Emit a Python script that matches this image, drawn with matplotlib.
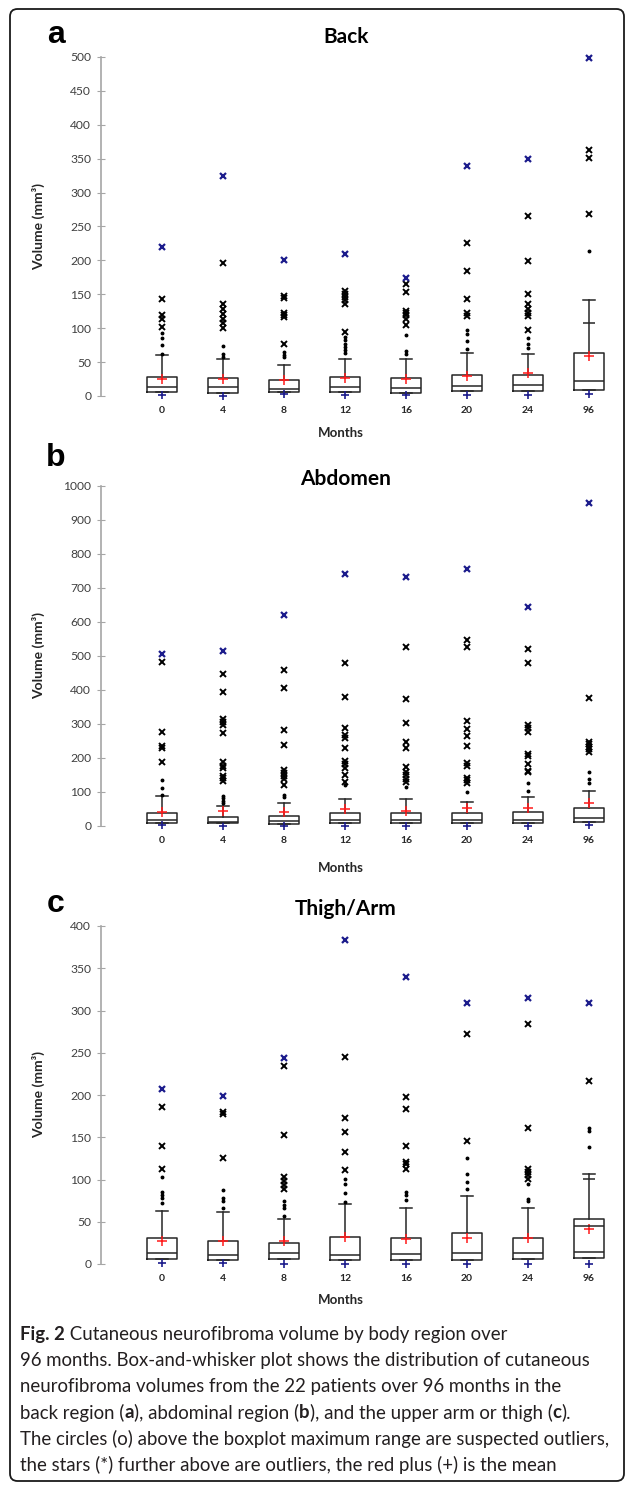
import matplotlib.pyplot as plt
import numpy as np
from matplotlib.patches import FancyBboxPatch

plt.rcParams['font.family'] = ['Lato', 'DejaVu Sans']

W, H = 627, 1485
nan = np.nan

months = ['0', '4', '8', '12', '16', '20', '24', '96']

# ---- a: Back ----
back_q1 = [6.5, 5, 5.4, 6, 5, 7.4, 7.4, 9.3]
back_med = [13.5, 13.7, 10.3, 13, 12.3, 14.7, 15.7, 22]
back_q3 = [28, 26, 23.5, 27.5, 26.5, 30.5, 30.5, 63]
back_whi = [60, 55, 45, 55, 55, 64, 62.4, 141]
back_mean = [25.5, 24.5, 23, 26.5, 25.5, 29.5, 34, 59]
back_min = [2, 0.5, 2.5, 2, 1, 2, 2, 2.5]
back_max = [220, 325, 200, 210, 174, 339, 350, 499]
back_cap2 = [nan, nan, nan, nan, nan, nan, nan, 108]
back_out = [
    [143.5, 119, 113, 102],
    [196.7, 136, 128, 121, 114, 107, 100],
    [148, 145, 122, 119, 116, 77],
    [155, 151, 146, 141, 135, 94],
    [165, 153, 126, 122, 119, 113, 104],
    [225, 184, 143.5, 122, 117.5],
    [265, 199, 150, 135, 129, 122, 117.5, 98],
    [363, 351.5, 269],
]
back_sus = [
    [93, 86, 75, 62],
    [74, 62, 58],
    [65, 61, 58],
    [87, 82, 77, 72, 68, 63],
    [90, 67, 62],
    [97, 92, 81, 70],
    [86, 76, 71],
    [214],
]

# ---- b: Abdomen ----
abd_q1 = [8, 8, 6, 8, 8, 8, 8, 11]
abd_med = [17.6, 12.7, 15.7, 17.6, 17.6, 17.6, 17.6, 24.5]
abd_q3 = [39, 27.4, 29, 39, 39, 39, 42, 52]
abd_whi = [89, 59, 67, 79, 78, 71.5, 86, 103]
abd_mean = [40, 44, 40, 49, 45, 52, 54, 67.6]
abd_min = [3, 0, 0, 0, 0, 0, 0, 3]
abd_max = [505, 515, 622, 742, 731, 757, 644, 950]
abd_cap2 = [nan] * 8
abd_out = [
    [481, 275, 236, 228, 187],
    [446, 395, 314, 306.5, 297, 274, 189, 177, 172, 147, 140, 132],
    [458, 407, 282, 238, 166, 157, 147, 137, 122],
    [478, 379, 289, 267, 260, 230, 191, 181, 172, 150, 130],
    [527, 373, 302, 248, 230, 174, 160, 150, 138, 130],
    [546.5, 527, 309.5, 284, 265, 235, 184, 176, 142, 135, 127],
    [521, 480, 297, 287, 277, 211.5, 205.7, 182, 162.6, 158],
    [377, 248, 241, 233, 225, 218],
]
abd_sus = [
    [135, 111, 91],
    [88, 81, 74, 67],
    [91, 86],
    [120],
    [116],
    [101],
    [125, 104],
    [160, 138, 127],
]

# ---- c: Thigh/Arm ----
thigh_q1 = [6, 4.7, 6, 4.7, 4.7, 4.7, 6, 7.5]
thigh_med = [12.6, 10.7, 12.6, 10.3, 11.4, 12.6, 12.6, 14.6]
thigh_q3 = [31, 27.6, 24.5, 31.6, 30.4, 36.3, 30.4, 53]
thigh_whi = [62.7, 61, 53, 70.6, 66, 81, 66, 106]
thigh_mean = [27.6, 27, 27.6, 32, 29.6, 31, 30.4, 41.4]
thigh_min = [1, 1, 0, 0, 0, 0, 0, 0]
thigh_max = [206.8, 199, 243.5, 384, 340, 308.6, 314.5, 308.6]
thigh_cap2 = [nan, nan, nan, nan, nan, nan, nan, 100.6]
thigh_line2 = [nan, nan, nan, nan, nan, nan, nan, 45]
thigh_out = [
    [186, 139.7, 113],
    [179.6, 177.6, 126],
    [234, 152.7, 103, 98, 93, 89],
    [244.7, 172.5, 156.7, 133, 111],
    [198, 184, 140, 121, 118, 113],
    [272, 145.6],
    [284, 160.6, 113, 109, 105, 101],
    [217],
]
thigh_sus = [
    [102.6, 85, 81.7, 77.7, 72],
    [87.6, 78.5, 75, 66],
    [74, 70, 66, 57],
    [101, 94.7, 83.7, 73.8],
    [85.6, 81.7, 75.8],
    [126, 106, 96.7, 88.4],
    [94.7, 76.6, 74.6],
    [160.6, 157.5, 138],
]

fig = plt.figure(figsize=(W / 100, H / 100), dpi=100)

dark = '#262626'
navy = '#1c1c8c'
grey = '#a6a6a6'


def fx(x):
    return x / W


def fy(y):
    return 1 - y / H


def panel(y_zero, y_top, q1, med, q3, whi, mean, vmin, vmax, out, sus, cap2,
          ymax, step):
    ax = fig.add_axes([fx(101), fy(y_zero), fx(518.5), (y_zero - y_top) / H])
    pos = np.arange(len(months))
    stats = [dict(q1=a, med=m, q3=b, whislo=a, whishi=w, fliers=[])
             for a, m, b, w in zip(q1, med, q3, whi)]
    lp = dict(color=dark, lw=1.1)
    ax.bxp(stats, positions=pos, widths=0.5, capwidths=0.2, showfliers=False,
           boxprops=lp, medianprops=lp, whiskerprops=lp, capprops=lp)
    ax.hlines(cap2, pos - 0.1, pos + 0.1, color=dark, lw=1.1)
    for i in pos:
        ax.plot([i] * len(out[i]), out[i], 'x', color='black', ms=4, mew=1.4,
                clip_on=False)
        ax.plot([i] * len(sus[i]), sus[i], 'o', color='black', ms=1.8,
                clip_on=False)
    ax.plot(pos, vmax, 'x', color=navy, ms=4.5, mew=1.6, clip_on=False)
    ax.plot(pos, mean, '+', color='#ff1a1a', ms=7, mew=1.1, clip_on=False)
    ax.plot(pos, vmin, '+', color=navy, ms=6, mew=1.2, clip_on=False)

    ax.set_xlim(-1, 7.5)
    ax.set_ylim(0, ymax)
    ax.set_yticks(np.arange(0, ymax + 1, step))
    ax.set_xticks(pos, months, fontweight='bold', fontsize=7.5, color=dark)
    ax.tick_params(axis='x', length=0, pad=7)
    ax.tick_params(axis='y', direction='inout', length=6, color=grey,
                   labelsize=8.7, labelcolor='#404040', pad=4)
    for s in ['top', 'right', 'bottom']:
        ax.spines[s].set_visible(False)
    ax.spines['left'].set_color(grey)
    ax.spines['left'].set_linewidth(1.2)
    ax.set_ylabel('Volume (mm³)', fontweight='bold', fontsize=10, color=dark)
    ax.yaxis.set_label_coords(-0.108, 0.5)
    ax.patch.set_alpha(0)
    return ax


panel(396, 57, back_q1, back_med, back_q3, back_whi, back_mean, back_min,
      back_max, back_out, back_sus, back_cap2, 500, 50)
panel(826, 486, abd_q1, abd_med, abd_q3, abd_whi, abd_mean, abd_min,
      abd_max, abd_out, abd_sus, abd_cap2, 1000, 100)
axc = panel(1264, 926, thigh_q1, thigh_med, thigh_q3, thigh_whi, thigh_mean,
            thigh_min, thigh_max, thigh_out, thigh_sus, thigh_cap2, 400, 50)
axc.hlines(thigh_line2, np.arange(8) - 0.25, np.arange(8) + 0.25, color=dark,
           lw=1.1)

# panel letters, titles, x labels
for letter, ly, title, ty, my in [('a', 35, 'Back', 37, 433),
                                  ('b', 458, 'Abdomen', 479, 868),
                                  ('c', 904, 'Thigh/Arm', 909, 1300)]:
    fig.text(fx(56), fy(ly), letter, family='Liberation Sans',
             fontweight='bold', fontsize=23, ha='center', va='center')
    fig.text(fx(346), fy(ty), title, fontweight='bold', fontsize=15,
             ha='center', va='center')
    fig.text(fx(341), fy(my), 'Months', fontweight='bold', fontsize=9.5,
             ha='center', va='center', color=dark)

# caption
caption = [
    [('Fig. 2', 'bold'), (' Cutaneous neurofibroma volume by body region over', 'normal')],
    [('96 months. Box-and-whisker plot shows the distribution of cutaneous', 'normal')],
    [('neurofibroma volumes from the 22 patients over 96 months in the', 'normal')],
    [('back region (', 'normal'), ('a', 'bold'), ('), abdominal region (', 'normal'),
     ('b', 'bold'), ('), and the upper arm or thigh (', 'normal'), ('c', 'bold'),
     (').', 'normal')],
    [('The circles (o) above the boxplot maximum range are suspected outliers,', 'normal')],
    [('the stars (*) further above are outliers, the red plus (+) is the mean', 'normal')],
]
renderer = fig.canvas.get_renderer()
for k, line in enumerate(caption):
    x = 20
    y = 1333 + 26 * k
    for s, wgt in line:
        t = fig.text(fx(x), fy(y), s, fontsize=13.4, fontweight=wgt,
                     color='#231f20', ha='left', va='center_baseline')
        x += t.get_window_extent(renderer).width

# outer rounded frame
frame = FancyBboxPatch((fx(10), fy(1481)), fx(614), (1481 - 9) / H,
                       boxstyle='round,pad=0,rounding_size=0.012',
                       transform=fig.transFigure, fill=False, ec='#1a1a1a',
                       lw=1.3, mutation_aspect=W / H)
fig.patches.append(frame)

fig.savefig('out.png', dpi=100)
